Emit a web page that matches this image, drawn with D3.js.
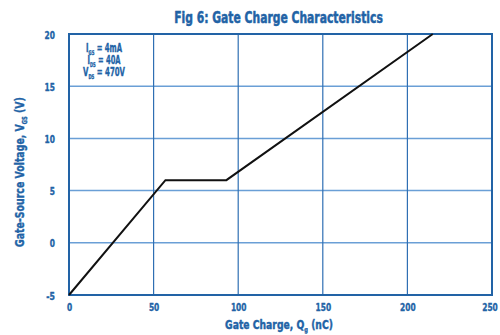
<!DOCTYPE html>
<html>
<head>
<meta charset="utf-8">
<script src="https://cdn.jsdelivr.net/npm/d3@7"></script>
<style>
  html, body { margin: 0; padding: 0; background: #fff; }
  svg { display: block; }
  text { font-family: "DejaVu Sans Condensed", "Liberation Sans", sans-serif; }
</style>
</head>
<body>
<svg id="chart" width="500" height="335"></svg>
<script>
// Gate charge curve: Qg (nC) vs VGS (V)
const gateCharge = [0, 57, 93, 215];
const gateVoltage = [-5, 6, 6, 20];
const xTicks = [0, 50, 100, 150, 200, 250];
const yTicks = [-5, 0, 5, 10, 15, 20];

const blue = "#2263a6";
const vGrid = "#2f6fb3";
const hGrid = "#6a9fd6";

const margin = { left: 69, right: 8, top: 34, bottom: 40 };
const W = 500, H = 335;
const svg = d3.select("#chart");

const x = d3.scaleLinear().domain([0, 250]).range([margin.left, W - margin.right]);
const y = d3.scaleLinear().domain([-5, 20]).range([H - margin.bottom, margin.top]);

// thicken compressed bold glyphs with a thin outline in the fill colour
const heavy = (sel, w) => sel.attr("stroke", blue).attr("stroke-width", w)
  .attr("stroke-linejoin", "round");

// label squeezed horizontally to a given width
function condensedLabel(parent, cx, cy, rotate, size, width, parts, strokeW, anchor = "middle") {
  const g = parent.append("g");
  const t = g.append("text").attr("text-anchor", anchor)
    .attr("fill", blue).attr("font-size", size).attr("font-weight", "bold")
    .call(heavy, strokeW);
  parts.forEach(p => {
    const sp = t.append("tspan").text(p.text);
    if (p.sub) sp.attr("font-size", size * 0.55).attr("dy", 3);
    if (p.after) sp.attr("dy", -3);
  });
  const sx = width / t.node().getComputedTextLength();
  g.attr("transform", `translate(${cx},${cy}) rotate(${rotate}) scale(${sx},1)`);
  return g;
}

// condensed width for numeric tick labels
const numWidth = s => s.replace("-", "").length * 5.2 + (s.startsWith("-") ? 3.5 : 0);

// grid
svg.append("g").selectAll("line").data(yTicks.slice(1, -1)).join("line")
  .attr("x1", x(0)).attr("x2", x(250))
  .attr("y1", d => y(d)).attr("y2", d => y(d))
  .attr("stroke", hGrid).attr("stroke-width", 1.5);
svg.append("g").selectAll("line").data(xTicks.slice(1, -1)).join("line")
  .attr("x1", d => x(d)).attr("x2", d => x(d))
  .attr("y1", y(20)).attr("y2", y(-5))
  .attr("stroke", vGrid).attr("stroke-width", 1.2);

// frame
svg.append("rect")
  .attr("x", x(0)).attr("y", y(20))
  .attr("width", x(250) - x(0)).attr("height", y(-5) - y(20))
  .attr("fill", "none").attr("stroke", blue).attr("stroke-width", 2);

// axes: positions from d3 axes, labels redrawn condensed
const gx = svg.append("g").attr("transform", `translate(0,${y(-5)})`)
  .call(d3.axisBottom(x).tickValues(xTicks).tickSize(0).tickFormat(""));
const gy = svg.append("g").attr("transform", `translate(${x(0)},0)`)
  .call(d3.axisLeft(y).tickValues(yTicks).tickSize(0).tickFormat(""));
[gx, gy].forEach(g => g.select(".domain").remove());
gx.selectAll(".tick").each(function (d) {
  const s = String(d);
  const shift = d === 250 ? -2.5 : 0;
  condensedLabel(d3.select(this), shift, 16, 0, 11, numWidth(s), [{ text: s }], 0.35);
});
gy.selectAll(".tick").each(function (d) {
  const s = String(d);
  condensedLabel(d3.select(this), -14, 4, 0, 11, numWidth(s), [{ text: s }], 0.35, "end");
});

// curve
const line = d3.line().x(d => x(d[0])).y(d => y(d[1]));
svg.append("path")
  .datum(gateCharge.map((q, i) => [q, gateVoltage[i]]))
  .attr("d", line)
  .attr("fill", "none").attr("stroke", "#111").attr("stroke-width", 2);

// title
condensedLabel(svg, 278.5, 23, 0, 16.5, 209,
  [{ text: "Fig 6: Gate Charge Characteristics" }], 0.5);

// axis titles
condensedLabel(svg, 279, 329, 0, 12.5, 108,
  [{ text: "Gate Charge, Q" }, { text: "g", sub: true }, { text: " (nC)", after: true }], 0.4);
condensedLabel(svg, 24, 172, -90, 12.5, 150,
  [{ text: "Gate-Source Voltage, V" }, { text: "GS", sub: true }, { text: " (V)", after: true }], 0.4);

// test conditions
const condSymbol = ["I", "I", "V"];
const condSub = ["GS", "DS", "DS"];
const condValue = [" = 4mA", " = 40A", " = 470V"];
const condWidth = [36, 33, 42];
condSymbol.forEach((s, i) => {
  condensedLabel(svg, 104, 52 + i * 12, 0, 12, condWidth[i],
    [{ text: s }, { text: condSub[i], sub: true }, { text: condValue[i], after: true }], 0.35);
});
</script>
</body>
</html>
